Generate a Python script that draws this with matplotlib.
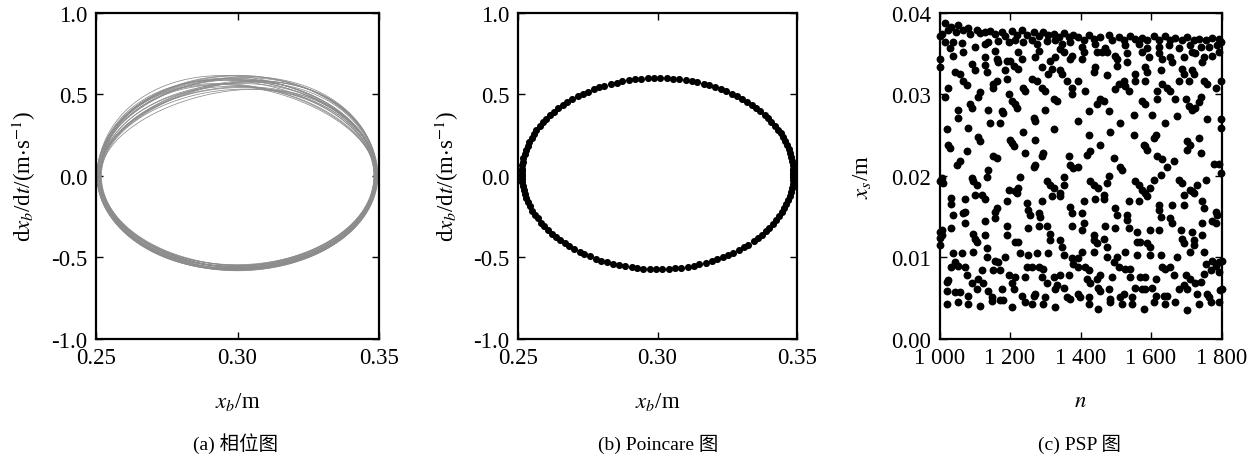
import numpy as np
import matplotlib
matplotlib.use("Agg")
import matplotlib.pyplot as plt

plt.rcParams['font.family'] = ['Liberation Serif', 'Noto Sans CJK SC', 'DejaVu Sans']
plt.rcParams['mathtext.fontset'] = 'stix'
plt.rcParams['axes.unicode_minus'] = False

# ---------------- data ----------------
# (a) phase portrait: loops of the trajectory band
# (x centre, half width, top / bottom velocity, skew of the upper half in m/s)
loop_cx = [0.3000, 0.2998, 0.3002, 0.2999, 0.3001, 0.3000, 0.2997, 0.3003, 0.3000, 0.2999, 0.3001, 0.3000,
           0.2998, 0.3002, 0.3000, 0.3001, 0.2999, 0.3000, 0.3002, 0.2998, 0.3001, 0.3000, 0.2999, 0.3001]
loop_ax = [0.0496, 0.0494, 0.0490, 0.0488, 0.0485, 0.0483, 0.0493, 0.0489, 0.0486, 0.0495, 0.0491, 0.0487,
           0.0484, 0.0490, 0.0494, 0.0482, 0.0492, 0.0488, 0.0486, 0.0495, 0.0489, 0.0484, 0.0491, 0.0487]
loop_top = [0.615, 0.600, 0.585, 0.570, 0.555, 0.540, 0.595, 0.575, 0.560, 0.605, 0.590, 0.565,
            0.548, 0.580, 0.610, 0.530, 0.598, 0.572, 0.552, 0.612, 0.588, 0.525, 0.582, 0.545]
loop_bot = [-0.580, -0.575, -0.570, -0.560, -0.555, -0.548, -0.578, -0.565, -0.552, -0.572, -0.568, -0.558,
            -0.545, -0.562, -0.576, -0.550, -0.574, -0.566, -0.556, -0.582, -0.570, -0.550, -0.564, -0.560]
loop_skew = [0.0, 0.018, -0.018, 0.03, -0.03, 0.009, -0.009, 0.04, -0.04, 0.024, -0.024, 0.006,
             -0.006, 0.034, -0.034, 0.015, -0.015, 0.044, -0.044, 0.003, -0.003, 0.037, -0.037, 0.012]

pc_cx, pc_ax, pc_cy, pc_by = 0.300, 0.0487, 0.013, 0.585
pc_angles = [0, 1.5, 3, 5, 7.5, 10, 12.5, 15, 17.5, 20, 22.5, 25, 27.5, 30, 33, 35.5, 38, 41, 43.5, 46, 49,
             51.5, 54, 57, 59.5, 62, 65, 67.5, 70, 73, 75.5, 78, 81, 83.5, 86, 89, 91.5, 94, 97, 99.5, 102,
             105, 107.5, 110, 113, 115.5, 118, 121, 123.5, 126, 129, 131.5, 134, 137, 139.5, 142, 145, 147.5,
             150, 153, 155.5, 158, 160.5, 163, 165.5, 168, 170.5, 173, 175, 177, 178.5, 180, 181.5, 183, 185,
             187.5, 190, 192.5, 195, 197.5, 200, 203, 205.5, 208, 211, 213.5, 216, 219, 221.5, 224, 227,
             229.5, 232, 235, 237.5, 240, 243, 245.5, 248, 251, 253.5, 256, 259, 261.5, 264, 267, 269.5, 272,
             275, 277.5, 280, 283, 285.5, 288, 291, 293.5, 296, 299, 301.5, 304, 307, 309.5, 312, 315, 317.5,
             320, 323, 325.5, 328, 331, 333.5, 336, 339, 341.5, 344, 346.5, 349, 351.5, 354, 356, 358, 359.5]

# (c) PSP: sample index n and x_s (mm)
psp_n = [
    1015, 1033, 1053, 1006, 1025, 1046, 1068, 1082, 1087, 1105, 1115, 1129, 1143, 1158, 1177, 1186, 1205, 1219, 1235, 1248, 1267, 1281, 1295, 1309, 1324, 1338, 1352, 1366, 1380,
    1001, 1015, 1039, 1063, 1101, 1129, 1139, 1167, 1196, 1215, 1238, 1262, 1276, 1305, 1328, 1347, 1371,
    1030, 1158, 1224, 1281, 1343, 1352, 1376, 1001, 1039, 1068, 1129, 1162, 1191, 1200, 1233, 1271, 1314, 1328, 1371,
    1001, 1091, 1129, 1167, 1210, 1224, 1290, 1319, 1343, 1347, 1044, 1058, 1101, 1134, 1186, 1262, 1276, 1309, 1361, 1162, 1153, 1068, 1077, 1191,
    1025, 1015, 1115, 1110, 1153, 1238, 1243, 1290, 1300, 1376, 1196, 1376,
    1087, 1091, 1205, 1215, 1219, 1324, 1333, 1300, 1053, 1139, 1177,
    1053, 1143, 1172, 1181, 1267, 1271,
    1020, 1082, 1110, 1115, 1200, 1205, 1238, 1324, 1271,
    1025, 1030, 1077, 1153, 1162, 1210, 1243, 1290, 1295, 1366,
    1049, 1058, 1139, 1267, 1271, 1371, 1380,
    1394, 1409, 1423, 1437, 1456, 1480, 1489, 1508, 1522, 1541, 1556, 1575, 1589, 1608, 1622, 1641, 1655, 1669, 1688, 1703, 1722, 1736, 1755, 1774, 1793, 1798,
    1404, 1442, 1470, 1527, 1565, 1589, 1622, 1650, 1679, 1712, 1741, 1764, 1788,
    1404, 1409, 1447, 1461, 1475, 1499, 1504, 1532, 1532, 1575, 1594, 1622, 1631, 1655, 1660, 1693, 1717, 1726, 1745, 1750, 1774, 1793,
    1442, 1437, 1475, 1504, 1556, 1584, 1589, 1627, 1688, 1693, 1717, 1722,
    1394, 1413, 1499, 1508, 1522, 1527, 1537, 1556, 1584, 1617, 1617, 1631, 1646, 1655, 1679, 1707, 1750, 1759, 1783, 1798,
    1456, 1447, 1466, 1575, 1584, 1669, 1698, 1707, 1717, 1726, 1741, 1736, 1423, 1480,
    1394, 1513, 1551, 1641, 1674, 1759, 1798, 1798, 1603,
    1423, 1485, 1551, 1613, 1608, 1703, 1712, 1736, 1579, 1456,
    1418, 1428, 1494, 1584, 1589, 1617, 1631, 1703, 1741, 1778, 1793,
    1394, 1513, 1518, 1646, 1665,
    1011, 1006, 1091, 1096, 1105, 1134, 1229, 1224, 1215, 1196, 1219, 1305, 1314, 1324, 1352, 1352,
    1034, 1034, 1072, 1101, 1120, 1129, 1191, 1248, 1290, 1319, 1343, 1343, 1371,
    1039, 1068, 1072, 1072, 1129, 1158, 1162, 1158, 1191, 1252, 1257, 1281, 1286, 1305, 1376,
    1006, 1006, 1034, 1096, 1101, 1105, 1129, 1191, 1215, 1224, 1252, 1281, 1314, 1314, 1343, 1347, 1376,
    1001, 1039, 1063, 1096, 1134, 1134, 1158, 1167, 1186, 1229, 1252, 1276, 1309, 1352, 1376, 1380,
    1044, 1053, 1072, 1034, 1248, 1262, 1281, 1295,
    1025, 1020, 1077, 1110, 1120, 1153, 1172, 1196, 1215, 1243, 1290, 1324, 1343, 1366,
    1091, 1124, 1205, 1305, 1333,
    1020, 1044, 1058, 1082, 1105, 1139, 1148, 1177, 1210, 1233, 1267, 1271, 1300, 1328, 1352, 1361,
    1020, 1053, 1082, 1115, 1148, 1172, 1181, 1205, 1243, 1262, 1295, 1328, 1371,
    1428, 1437, 1451, 1475, 1480, 1556, 1565, 1575, 1584, 1589, 1598, 1608, 1627, 1679, 1688, 1712, 1722, 1731, 1755,
    1409, 1442, 1466, 1466, 1537, 1565, 1622, 1622, 1660, 1693, 1693, 1717, 1745, 1750, 1783, 1788,
    1404, 1409, 1404, 1499, 1504, 1532, 1532, 1470, 1499, 1537, 1627, 1655, 1660, 1684, 1717, 1745, 1774, 1783,
    1437, 1437, 1447, 1466, 1475, 1560, 1560, 1570, 1589, 1598, 1598, 1622, 1688, 1693, 1722, 1722, 1745, 1750,
    1404, 1437, 1475, 1494, 1504, 1508, 1527, 1527, 1541, 1560, 1598, 1627, 1631, 1641, 1655, 1674, 1394, 1394, 1413, 1423, 1712, 1755, 1774, 1783, 1793, 1793,
    1418, 1428, 1447, 1456, 1489, 1541, 1570, 1584, 1613, 1665, 1698, 1712, 1726, 1741, 1750, 1769,
    1394, 1399, 1451, 1456, 1480, 1513, 1522, 1546, 1556, 1575, 1584, 1603, 1613, 1636, 1646, 1679, 1693, 1703, 1731, 1759, 1764, 1797,
    1423, 1423, 1451, 1485, 1485, 1518, 1546, 1579, 1608, 1641, 1669, 1703, 1736, 1769, 1793,
    1800, 1800, 1798, 1000, 1000, 1000,
]
psp_xs_mm = [
    38.7, 38.2, 38.5, 37.4, 37.8, 37.6, 37.8, 38.1, 37.4, 37.8, 37.5, 37.6, 37.7, 37.4, 37.6, 37.1, 37.7, 37.3, 37.8, 37.2, 37.6, 37.1, 37.6, 37.2, 37.4, 37.0, 37.5, 37.0, 37.2,
    37.1, 36.4, 36.4, 36.3, 35.8, 36.2, 36.4, 36.5, 36.4, 36.6, 36.4, 36.6, 36.2, 36.5, 36.6, 36.2, 36.4,
    35.6, 35.3, 35.1, 35.3, 35.5, 35.2, 34.7, 34.3, 34.7, 35.1, 34.5, 34.3, 34.1, 34.1, 34.3, 34.5, 34.1, 34.5, 34.3,
    33.3, 33.7, 33.6, 33.9, 33.5, 33.1, 33.3, 33.1, 32.9, 32.5, 32.7, 32.5, 32.9, 32.7, 32.9, 31.8, 31.6, 32.5, 31.6, 31.6, 31.2, 31.6, 31.1, 31.8,
    30.8, 29.6, 30.2, 29.6, 30.8, 30.8, 30.4, 30.8, 30.4, 30.8, 30.0, 30.0,
    28.8, 28.3, 29.2, 28.8, 28.3, 29.4, 29.2, 28.1, 28.0, 28.1, 27.9,
    27.1, 26.5, 26.5, 27.7, 27.1, 26.7,
    25.7, 25.9, 24.8, 24.2, 24.4, 24.0, 25.3, 25.7, 24.4,
    23.8, 23.4, 23.0, 22.4, 22.2, 23.6, 22.8, 22.4, 22.8, 22.4,
    21.3, 21.8, 20.7, 21.1, 21.3, 21.3, 20.9,
    37.0, 36.6, 37.3, 36.8, 37.0, 37.2, 36.6, 37.0, 36.6, 37.1, 36.8, 36.9, 36.6, 37.1, 36.6, 37.1, 36.6, 36.9, 36.6, 37.0, 36.6, 36.8, 36.6, 36.9, 36.7, 36.4,
    35.8, 36.2, 35.6, 36.0, 36.2, 35.6, 35.8, 36.0, 35.6, 36.0, 35.8, 35.8, 36.0,
    34.3, 35.1, 35.1, 35.2, 35.1, 34.7, 34.3, 35.0, 33.9, 35.1, 34.5, 35.0, 34.3, 34.5, 33.9, 34.5, 35.1, 35.0, 33.9, 34.5, 34.7, 35.1,
    33.3, 32.7, 32.3, 33.5, 32.5, 33.3, 32.7, 32.9, 33.1, 32.5, 32.9, 32.5,
    31.6, 30.4, 30.6, 31.2, 31.6, 31.0, 30.4, 31.6, 31.6, 30.4, 29.4, 31.2, 30.8, 30.4, 31.6, 31.6, 31.6, 31.2, 30.8, 31.6,
    29.4, 28.8, 29.2, 29.2, 28.8, 29.4, 29.4, 28.5, 28.1, 28.3, 29.6, 29.0, 27.9, 27.9,
    26.7, 26.5, 27.5, 26.5, 27.3, 26.9, 26.9, 25.9, 27.5,
    25.0, 25.3, 25.0, 25.0, 24.6, 24.2, 23.8, 24.6, 23.8, 23.8,
    22.6, 23.0, 22.2, 23.6, 23.2, 22.4, 22.0, 23.2, 22.8, 21.5, 21.5,
    21.1, 21.1, 20.7, 21.1, 21.8,
    19.1, 19.7, 19.7, 19.3, 18.9, 19.9, 19.9, 18.5, 18.1, 18.3, 17.9, 19.3, 18.9, 18.5, 19.9, 18.9,
    17.3, 16.6, 17.1, 17.7, 17.7, 17.1, 16.9, 16.7, 16.9, 17.5, 17.9, 17.5, 16.2,
    15.2, 15.4, 15.6, 14.2, 14.4, 15.6, 16.0, 14.8, 13.8, 15.8, 15.2, 15.4, 15.0, 13.8, 15.4,
    13.4, 12.7, 13.6, 12.9, 12.3, 11.9, 12.7, 12.7, 11.9, 11.9, 13.6, 13.8, 12.9, 12.1, 12.1, 11.3, 13.8,
    11.5, 10.5, 10.5, 10.7, 11.1, 10.1, 9.6, 9.4, 10.1, 10.5, 10.3, 10.5, 10.5, 10.3, 9.9, 9.2,
    9.4, 9.0, 8.8, 8.8, 8.8, 8.8, 8.8, 8.6,
    7.2, 7.0, 7.8, 7.4, 8.4, 8.4, 8.4, 7.8, 7.6, 7.6, 7.6, 7.6, 7.8, 7.8,
    6.8, 6.8, 6.8, 6.8, 6.6,
    5.9, 5.7, 5.7, 5.3, 6.1, 5.9, 5.1, 6.1, 6.1, 5.3, 5.3, 5.5, 5.1, 6.1, 6.3, 5.1,
    4.3, 4.5, 4.3, 4.1, 4.7, 4.8, 4.8, 3.9, 4.5, 4.3, 4.3, 3.9, 4.9,
    19.3, 18.9, 18.5, 19.1, 20.0, 19.3, 18.9, 18.3, 17.9, 17.5, 18.5, 19.5, 20.1, 19.5, 19.1, 18.3, 17.9, 18.9, 19.5,
    16.9, 17.1, 17.7, 17.1, 16.9, 16.9, 16.4, 15.8, 16.4, 17.7, 16.4, 18.1, 16.9, 16.0, 15.6, 15.2,
    15.4, 14.2, 13.4, 16.0, 15.2, 15.2, 14.6, 13.8, 13.6, 13.6, 15.0, 14.8, 14.2, 13.4, 13.1, 14.2, 14.4, 14.2,
    12.7, 12.1, 11.7, 12.3, 11.3, 13.1, 11.9, 11.9, 11.7, 11.3, 13.4, 13.4, 12.3, 11.7, 12.1, 11.5, 12.7, 10.7,
    10.7, 10.7, 10.1, 9.4, 10.1, 8.8, 10.7, 8.6, 8.6, 10.3, 10.3, 10.3, 8.8, 8.6, 8.8, 10.1, 9.9, 8.8, 8.8, 8.4, 10.7, 9.2, 9.6, 9.0, 9.4, 8.2,
    7.4, 6.8, 7.4, 7.8, 7.6, 7.6, 7.6, 7.6, 7.4, 7.8, 7.8, 7.4, 6.8, 7.0, 8.0, 8.4,
    5.5, 5.1, 6.3, 5.9, 6.1, 5.1, 5.5, 5.1, 6.3, 6.1, 6.1, 6.3, 5.3, 5.3, 5.3, 6.1, 6.6, 6.1, 5.5, 5.5, 5.1, 6.0,
    5.1, 4.3, 3.7, 4.9, 4.5, 4.3, 4.3, 3.7, 4.5, 4.3, 4.5, 3.5, 4.3, 4.5, 4.5,
    9.6, 6.1, 20.3, 19.4, 13.1, 12.4,
]

# ticks
a_xticks = [0.25, 0.30, 0.35]
a_xticklabels = ['0.25', '0.30', '0.35']
a_yticks = [-1.0, -0.5, 0.0, 0.5, 1.0]
a_yticklabels = ['-1.0', '-0.5', '0.0', '0.5', '1.0']
c_xticks = [1000, 1200, 1400, 1600, 1800]
c_xticklabels = ['1 000', '1 200', '1 400', '1 600', '1 800']
c_yticks = [0.00, 0.01, 0.02, 0.03, 0.04]
c_yticklabels = ['0.00', '0.01', '0.02', '0.03', '0.04']

# ---------------- figure ----------------
fig = plt.figure(figsize=(12.55, 4.6), dpi=100)
H = 460.0
W = 1255.0
bottom = (H - 340) / H
height = 326.5 / H
ax_a = fig.add_axes([96 / W, bottom, 283 / W, height])
ax_b = fig.add_axes([518 / W, bottom, 279 / W, height])
ax_c = fig.add_axes([939.5 / W, bottom, 282 / W, height])

TS = 16.5

def style(ax):
    for s in ax.spines.values():
        s.set_linewidth(1.6)
    ax.tick_params(direction='in', top=True, right=True, length=5, width=1.0,
                   labelsize=TS, pad=6)

# (a)
th = np.linspace(0, 2 * np.pi, 700)
for cx, a, top, bot, sk in zip(loop_cx, loop_ax, loop_top, loop_bot, loop_skew):
    s = np.sin(th)
    y = np.where(s >= 0, top * s + sk * np.sin(2 * th), -bot * s + 0.3 * sk * np.sin(2 * th))
    x = cx + a * np.cos(th)
    ax_a.plot(x, y, color='0.55', lw=0.55)

# (b)
ang = np.deg2rad(np.array(pc_angles))
ax_b.scatter(pc_cx + pc_ax * np.cos(ang), pc_cy + pc_by * np.sin(ang), s=26, color='black',
             linewidths=0, zorder=3)

for ax in (ax_a, ax_b):
    ax.set_xlim(0.25, 0.35)
    ax.set_ylim(-1.0, 1.0)
    ax.set_xticks(a_xticks)
    ax.set_xticklabels(a_xticklabels)
    ax.set_yticks(a_yticks)
    ax.set_yticklabels(a_yticklabels)
    style(ax)
    ax.set_xlabel(r'$x_b$/m', fontsize=TS)
    ax.set_ylabel(r'd$x_b$/d$t$/(m$\cdot$s$^{-1}$)', fontsize=TS)
    ax.xaxis.set_label_coords(0.5, -0.155)
    ax.yaxis.set_label_coords(-0.205, 0.5)

# (c)
ax_c.scatter(psp_n, np.array(psp_xs_mm) / 1000.0, s=32, color='black', linewidths=0,
             zorder=3, clip_on=False)
ax_c.set_xlim(1000, 1800)
ax_c.set_ylim(0.0, 0.04)
ax_c.set_xticks(c_xticks)
ax_c.set_xticklabels(c_xticklabels)
ax_c.set_yticks(c_yticks)
ax_c.set_yticklabels(c_yticklabels)
style(ax_c)
ax_c.set_xlabel(r'$n$', fontsize=TS)
ax_c.set_ylabel(r'$x_s$/m', fontsize=TS)
ax_c.xaxis.set_label_coords(0.5, -0.155)
ax_c.yaxis.set_label_coords(-0.235, 0.5)

# captions
cap_y = (H - 444) / H
fig.text(236 / W, cap_y, '(a) 相位图', ha='center', va='center', fontsize=14)
fig.text(658 / W, cap_y, '(b) Poincare 图', ha='center', va='center', fontsize=14)
fig.text(1080 / W, cap_y, '(c) PSP 图', ha='center', va='center', fontsize=14)

fig.savefig('out.png', dpi=100)
